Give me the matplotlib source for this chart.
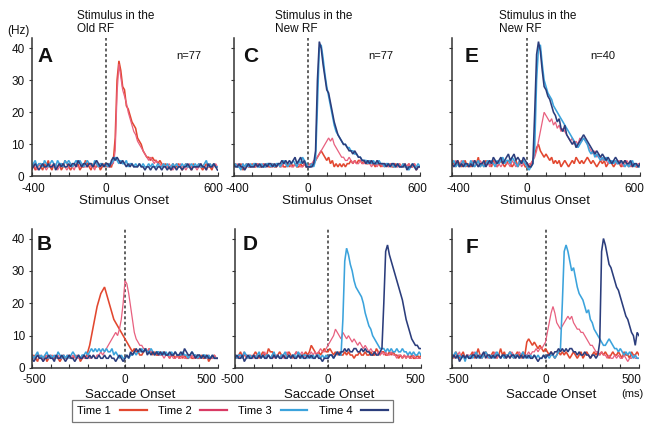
import numpy as np
import matplotlib
matplotlib.use('Agg')
import matplotlib.pyplot as plt
from matplotlib.lines import Line2D
from matplotlib.transforms import ScaledTranslation

plt.rcParams['font.family'] = ['Liberation Sans', 'DejaVu Sans']
plt.rcParams['axes.unicode_minus'] = False

# ---------------- data (firing rate, Hz, 10 ms bins) ----------------
BIN = 10
STIM_START = -400          # top row: aligned on stimulus onset
SACC_START = -500          # bottom row: aligned on saccade onset
STIM_TICKS = [-400, 0, 600]
SACC_TICKS = [-500, 0, 500]
Y_TICKS = [0, 10, 20, 30, 40]
LABELS = ['Time 1', 'Time 2', 'Time 3', 'Time 4']
COLORS = ['#e2472f', '#e8607f', '#3ba3dc', '#2b3d7c']
LEGEND_COLORS = ['#e2472f', '#d93a64', '#3ba3dc', '#2b3d7c']

# Panel A  (stimulus in old RF, stimulus onset)
A_T1 = [3,4,2,3,4,3,2,4,3,5, 3,2,4,3,3,4,2,3,5,4, 3,2,3,4,3,4,2,3,3,5, 4,3,2,4,3,3,4,2,3,4,
        3,4,3,3,5,12,30,36,33,28, 27,22,21,19,17,16,15,12,11,10, 8,7,6,6,5,6,5,5,4,5,
        4,3,4,3,3,2,4,3,3,4, 3,2,3,4,3,3,2,4,3,3, 4,3,2,3,4,3,3,2,4,3, 3]
A_T2 = [4,3,3,2,4,3,4,3,2,3, 4,3,3,4,2,3,4,4,3,2, 3,4,3,2,4,3,3,4,3,3, 3,4,3,3,2,4,3,3,4,3,
        4,3,3,4,4,8,26,35,31,27, 25,23,20,18,16,14,13,11,10,9, 8,7,6,5,6,5,4,5,4,4,
        3,4,3,3,4,3,2,3,4,3, 4,3,3,2,3,4,3,3,3,2, 3,4,3,3,2,3,4,3,3,4, 3]
A_T3 = [3,4,5,3,4,4,3,5,4,3, 4,5,4,3,5,4,4,3,5,4, 5,4,3,4,5,4,5,4,3,4, 5,4,4,3,5,4,3,4,4,3,
        4,3,4,4,5,6,5,4,5,4, 4,5,3,4,4,3,4,3,4,3, 4,3,3,4,3,4,3,3,4,3,
        3,4,3,4,3,3,4,3,4,3, 3,4,3,4,3,3,4,3,4,3, 4,3,3,4,5,3,4,3,4,3, 3]
A_T4 = [2,3,4,3,2,3,4,3,3,4, 3,3,4,2,3,4,3,4,3,3, 4,3,4,4,3,5,4,3,4,4, 3,4,4,3,4,5,4,3,4,3,
        4,4,3,5,6,5,6,5,4,5, 4,3,4,3,4,3,3,3,4,3, 3,2,3,3,2,3,3,2,3,3,
        2,3,3,2,3,2,3,3,2,3, 3,2,3,3,4,3,2,3,3,3, 3,4,3,3,2,4,3,3,4,3, 2]

# Panel C  (stimulus in new RF, stimulus onset)
C_T1 = [3,4,3,3,4,2,3,4,3,3, 4,3,3,4,3,3,4,3,4,3, 3,4,3,3,4,3,4,3,3,4, 3,4,3,4,3,3,4,3,4,3,
        3,3,4,4,5,6,7,8,7,6, 5,6,4,5,3,4,3,4,3,4, 3,4,4,5,4,5,4,5,5,4,
        5,4,4,5,4,4,3,4,4,3, 4,3,4,3,4,3,3,4,3,4, 3,4,3,3,4,3,3,4,2,3, 3]
C_T2 = [4,3,4,3,3,4,3,3,4,3, 3,4,3,4,3,3,4,3,3,4, 3,3,4,3,4,3,3,4,4,3, 4,3,3,4,3,4,3,3,4,3,
        3,4,4,5,5,6,7,8,9,10, 11,12,11,12,10,9,8,7,6,6, 5,5,6,5,4,5,4,4,5,4,
        4,5,4,4,3,4,4,3,4,4, 3,4,4,3,4,3,4,3,3,4, 3,3,4,3,4,3,3,4,3,3, 3]
C_T3 = [3,4,3,3,2,4,3,4,3,4, 3,4,4,3,3,4,3,3,4,4, 3,4,3,4,4,3,4,5,4,3, 4,4,5,4,3,5,4,6,5,4,
        3,3,4,3,5,22,40,41,37,32, 28,25,22,19,16,14,13,12,11,10, 10,9,9,8,8,7,7,6,6,5,
        5,5,4,5,4,5,4,4,5,4, 4,3,4,4,3,4,3,3,4,3, 3,4,3,3,2,3,4,3,3,4, 3]
C_T4 = [4,3,3,4,3,3,2,3,4,3, 3,3,4,3,4,3,3,4,3,4, 4,3,4,3,4,4,5,4,5,4, 5,4,5,6,4,5,6,4,5,3,
        3,3,3,4,8,30,42,40,35,31, 27,26,23,20,17,15,13,12,11,10, 10,9,8,8,7,8,7,6,6,5,
        5,4,5,4,5,4,4,5,4,4, 4,4,3,4,3,4,4,3,4,3, 3,3,4,2,3,3,4,3,2,3, 3]

# Panel E  (stimulus in new RF, n=40)
E_T1 = [5,4,3,5,4,3,4,5,3,4, 3,4,5,4,6,3,4,3,5,4, 4,3,5,4,3,4,5,4,3,4, 5,4,3,4,5,3,4,5,4,3,
        3,3,4,5,7,9,10,8,7,6, 7,6,5,6,4,5,4,5,3,4, 5,4,3,4,5,4,6,5,4,5,
        4,5,6,5,4,5,4,3,4,5, 4,5,3,4,5,4,3,4,5,4, 3,4,5,4,3,4,3,4,3,3, 4]
E_T2 = [4,3,5,4,3,5,4,3,4,3, 4,5,3,4,3,5,4,4,3,5, 3,4,4,5,3,4,3,4,5,4, 4,3,5,4,3,4,5,3,4,4,
        3,4,4,5,6,8,11,14,17,20, 19,18,17,18,16,17,15,16,14,15, 14,13,12,11,12,10,11,10,12,11,
        12,11,10,9,8,7,8,6,7,6, 5,6,5,4,5,4,5,4,4,5, 4,3,4,5,4,3,4,4,3,4, 4]
E_T3 = [4,5,3,4,3,4,5,3,4,3, 5,4,3,4,5,3,4,3,4,5, 4,5,4,3,5,4,5,6,4,5, 5,4,6,5,4,3,5,4,5,4,
        3,2,3,4,9,30,40,41,35,30, 28,26,25,24,22,21,20,19,18,17, 16,15,14,13,12,11,10,9,10,11,
        12,11,10,8,7,8,6,7,6,5, 6,5,6,5,4,5,4,5,4,4, 5,4,3,4,3,4,5,3,4,3, 3]
E_T4 = [4,3,4,5,3,4,3,4,4,3, 4,3,5,4,3,4,4,5,3,4, 5,4,6,5,4,5,6,4,5,6, 7,5,6,7,5,6,5,4,6,5,
        4,3,3,4,20,38,42,39,33,28, 27,25,24,22,20,19,17,18,15,14, 16,13,12,11,10,11,9,10,11,12,
        13,12,11,10,9,8,7,8,7,6, 7,6,5,6,5,4,5,6,5,4, 5,4,5,4,4,5,3,4,4,3, 4]

# Panel B  (old RF, saccade onset)
B_T1 = [3,4,3,2,4,3,3,4,2,3, 4,3,3,4,3,2,3,4,3,3, 4,3,3,4,3,4,2,3,4,3,
        5,7,10,13,16,19,21,23,24,25, 23,21,19,17,15,14,13,12,11,10, 9,8,7,6,5,6,5,5,4,4,
        5,6,5,6,5,4,5,4,4,5, 4,5,4,4,3,4,4,3,4,3, 4,3,4,3,3,4,3,3,4,3, 3,4,3,3,4,2,3,3,4,3, 3]
B_T2 = [4,3,3,4,3,4,2,3,4,3, 3,4,3,3,4,3,3,4,3,4, 3,3,4,3,4,3,3,4,3,3,
        4,3,3,4,3,4,4,5,4,5, 6,7,8,9,10,11,10,12,15,20, 27,26,23,19,15,11,9,8,7,7,
        6,6,5,6,5,5,4,5,4,4, 4,3,4,4,3,4,3,3,4,3, 3,4,3,3,4,3,4,3,3,4, 3,3,4,3,3,4,3,3,4,3, 3]
B_T3 = [4,3,4,5,3,4,3,4,5,3, 4,3,4,3,5,4,3,4,3,4, 3,4,5,4,3,4,3,4,4,5,
        4,5,6,5,6,5,6,5,6,5, 6,5,5,6,4,5,4,3,4,3, 3,4,3,4,4,5,4,5,5,6,
        5,6,5,5,6,5,4,5,5,4, 5,4,5,4,4,5,4,5,4,4, 4,5,4,4,3,4,5,4,4,3, 4,3,4,4,3,4,3,4,3,3, 3]
B_T4 = [3,2,3,4,3,3,2,3,3,4, 3,3,2,4,3,3,4,3,2,3, 4,3,3,2,3,4,3,3,4,3,
        3,4,3,4,3,3,4,3,3,4, 3,3,4,3,3,2,3,4,3,2, 3,4,3,5,4,5,6,5,6,5,
        5,6,4,5,4,5,4,5,4,5, 4,5,4,4,5,4,4,5,4,4, 5,4,6,5,4,4,5,4,3,4, 4,3,4,3,4,3,3,4,3,3, 3]

# Panel D  (new RF, saccade onset)
D_T1 = [4,3,4,5,3,4,4,3,4,3, 4,5,4,3,4,5,4,4,6,5, 5,4,3,4,5,4,4,3,4,5,
        4,3,4,5,4,3,4,4,5,4, 5,7,6,5,4,5,4,5,6,5, 5,6,5,4,5,4,5,4,4,5,
        4,5,4,4,3,4,4,5,4,4, 5,4,4,5,4,4,6,5,4,5, 5,4,4,5,4,5,4,4,3,4, 3,4,3,4,3,4,3,3,4,3, 4]
D_T2 = [4,3,4,3,4,5,3,4,3,4, 3,4,3,4,3,4,5,3,4,3, 4,3,4,4,3,4,3,4,5,4,
        3,4,4,5,4,4,5,4,3,4, 4,5,4,5,4,5,6,5,5,6, 7,8,9,10,12,11,10,9,11,10,
        9,10,9,8,9,8,7,8,7,6, 7,6,5,6,5,5,4,5,4,5, 4,5,4,4,5,4,4,3,4,4, 3,4,3,4,3,3,4,3,3,3, 3]
D_T3 = [4,3,4,4,3,5,4,3,4,3, 4,3,4,5,3,4,3,4,4,3, 4,5,3,4,3,4,4,5,3,4,
        3,4,4,3,5,4,3,4,4,3, 4,3,4,3,4,4,3,4,3,4, 3,4,4,3,4,5,4,4,15,33,
        37,35,32,30,27,25,24,23,22,20, 17,15,13,12,10,9,8,7,6,6, 6,5,6,5,6,5,5,6,5,5, 6,5,5,4,5,4,5,4,4,5, 4]
D_T4 = [3,4,3,3,4,2,3,4,3,3, 4,3,3,4,3,4,3,3,4,3, 3,4,3,4,3,3,4,3,3,4,
        3,4,3,3,4,3,4,3,3,4, 3,4,3,3,4,3,3,2,3,3, 3,4,4,3,4,5,4,5,5,6,
        5,6,5,5,6,6,5,5,6,5, 6,5,5,4,4,5,4,4,5,6, 20,36,38,35,33,31,29,27,25,23, 21,18,15,13,11,9,8,7,7,6, 6]

# Panel F  (new RF, n=40, saccade onset)
F_T1 = [4,3,5,4,3,4,5,3,4,3, 4,5,3,4,6,4,3,4,5,4, 3,4,5,4,3,4,6,4,5,3,
        4,5,4,3,4,5,4,3,5,4, 8,9,8,7,8,7,6,7,6,5, 6,5,4,5,4,3,4,5,4,5,
        4,5,4,3,4,5,4,3,4,5, 3,4,5,4,3,4,5,4,5,4, 5,4,5,4,3,4,5,4,4,5, 4,3,5,4,4,3,5,4,4,5, 4]
F_T2 = [3,4,3,4,5,3,4,3,4,4, 3,4,5,3,4,3,4,4,5,3, 4,3,4,5,3,4,3,4,3,4,
        4,3,5,4,3,4,5,4,3,4, 4,5,4,5,5,6,5,6,6,7, 8,11,14,17,19,17,14,13,12,13,
        14,15,16,15,16,14,13,12,12,11, 11,10,9,8,7,7,6,5,5,4, 5,4,4,3,4,3,3,4,3,4, 3,3,4,3,2,3,3,4,3,3, 3]
F_T3 = [3,4,5,3,4,3,4,2,4,3, 4,3,4,5,3,4,3,4,5,4, 3,4,3,4,5,4,3,4,3,4,
        4,5,4,3,4,4,3,4,5,3, 4,3,4,3,4,3,4,3,3,4, 3,4,3,4,4,3,4,5,6,20,
        36,38,36,33,30,31,28,25,23,22, 21,19,17,18,15,14,12,11,10,9, 8,7,7,8,9,8,7,6,6,5, 6,5,4,5,4,5,4,3,4,3, 3]
F_T4 = [3,4,3,4,2,3,4,3,4,3, 3,4,4,3,4,3,4,5,3,4, 4,3,4,3,4,4,3,4,4,3,
        4,3,4,4,3,4,3,4,3,4, 3,4,3,3,4,3,2,3,3,4, 3,4,4,5,4,5,5,6,5,6,
        5,6,5,6,6,5,5,4,5,4, 4,5,4,4,3,4,4,3,4,8, 36,40,38,35,32,31,29,27,25,24, 22,20,18,16,15,13,11,10,7,11, 10]

PANELS = [
    # letter, series, start, xlim, ticks, axes box px (left, top, right, bottom), end-label shifts px
    ('A', [A_T1, A_T2, A_T3, A_T4], STIM_START, (-400, 600), STIM_TICKS, (31.5, 38.4, 217.5, 176.5), (2, -4)),
    ('C', [C_T1, C_T2, C_T3, C_T4], STIM_START, (-400, 600), STIM_TICKS, (233.5, 38.4, 420.0, 176.5), (4, -3)),
    ('E', [E_T1, E_T2, E_T3, E_T4], STIM_START, (-400, 600), STIM_TICKS, (452.0, 38.4, 640.0, 176.5), (6, -6)),
    ('B', [B_T1, B_T2, B_T3, B_T4], SACC_START, (-500, 500), SACC_TICKS, (32.0, 228.8, 218.0, 368.0), (2, -12)),
    ('D', [D_T1, D_T2, D_T3, D_T4], SACC_START, (-500, 500), SACC_TICKS, (235.0, 228.8, 421.0, 368.0), (-3, -6)),
    ('F', [F_T1, F_T2, F_T3, F_T4], SACC_START, (-500, 500), SACC_TICKS, (452.0, 228.8, 639.0, 368.0), (5, -8)),
]

W, H = 647, 426
fig = plt.figure(figsize=(W / 100, H / 100), dpi=100)
fig.patch.set_facecolor('white')

def fx(px):
    return px / W

def fy(py):
    return 1 - py / H

LW = [1.15, 0.9, 1.15, 1.15]
axes = {}
for letter, series, start, xlim, ticks, (l, t, r, b), (s0, s1) in PANELS:
    ax = fig.add_axes([fx(l), fy(b), (r - l) / W, (b - t) / H])
    axes[letter] = ax
    for vals, c, lw in zip(series, COLORS, LW):
        x = start + BIN * np.arange(len(vals))
        ax.plot(x, vals, color=c, lw=lw, solid_joinstyle='miter')
    ax.axvline(0, ymin=0, ymax=1.0, color='#555555', lw=1.3,
               dashes=(1.6, 1.4), zorder=0)
    ax.set_xlim(*xlim)
    ax.set_ylim(0, 43)
    for s in ['top', 'right']:
        ax.spines[s].set_visible(False)
    for s in ['left', 'bottom']:
        ax.spines[s].set_color('#333333')
        ax.spines[s].set_linewidth(1.1)
    ax.set_xticks(ticks)
    ax.set_xticks(np.arange(xlim[0], xlim[1] + 1, 100), minor=True)
    ax.tick_params(axis='x', which='both', direction='in', length=3, width=0.8,
                   color='#333333', labelsize=8.5, pad=4.5, labelcolor='#111111')
    ax.set_yticks(Y_TICKS)
    ax.tick_params(axis='y', direction='out', length=2.5, width=0.8,
                   color='#333333', labelsize=8.5, pad=2.5, labelcolor='#111111')
    if letter not in ('A', 'B'):
        ax.set_yticklabels([])
    ax.patch.set_alpha(0)
    labs = ax.get_xticklabels()
    labs[0].set_transform(labs[0].get_transform() +
                          ScaledTranslation(s0 / 100, 0, fig.dpi_scale_trans))
    labs[-1].set_transform(labs[-1].get_transform() +
                           ScaledTranslation(s1 / 100, 0, fig.dpi_scale_trans))

# panel letters
for letter, (px, py) in {'A': (37, 57), 'C': (243, 57), 'E': (465, 57),
                          'B': (37, 245), 'D': (243, 245), 'F': (466, 248)}.items():
    fig.text(fx(px), fy(py), letter, fontsize=15, fontweight='bold',
             ha='left', va='center', color='#111111')

# n labels
for txt, px in [('n=77', 176), ('n=77', 368), ('n=40', 590)]:
    fig.text(fx(px), fy(56), txt, fontsize=8, ha='left', va='center', color='#111111')

# column titles
for txt, px in [('Stimulus in the\nOld RF', 77), ('Stimulus in the\nNew RF', 275),
                ('Stimulus in the\nNew RF', 499)]:
    fig.text(fx(px), fy(22.5), txt, fontsize=8.5, ha='left', va='center',
             linespacing=1.1, color='#111111')

fig.text(fx(18), fy(31), '(Hz)', fontsize=8.5, ha='center', va='center', color='#111111')

for px in [124, 327, 545]:
    fig.text(fx(px), fy(201.5), 'Stimulus Onset', fontsize=9.5, ha='center', va='center',
             color='#111111')
for px in [130, 329, 551]:
    fig.text(fx(px), fy(395), 'Saccade Onset', fontsize=9.5, ha='center', va='center',
             color='#111111')
fig.text(fx(632), fy(394), '(ms)', fontsize=8, ha='center', va='center', color='#111111')

handles = [Line2D([], [], color=c, lw=1.6) for c in LEGEND_COLORS]
leg = fig.legend(handles, LABELS, ncol=4, loc='center',
                 bbox_to_anchor=(fx(232.5), fy(411)), markerfirst=False,
                 fontsize=8, handlelength=2.4, handletextpad=0.8, columnspacing=1.0,
                 frameon=True, fancybox=False, edgecolor='#555555', borderpad=0.5,
                 borderaxespad=0)
leg.get_frame().set_linewidth(0.9)

fig.savefig('out.png', dpi=100, facecolor='white')
